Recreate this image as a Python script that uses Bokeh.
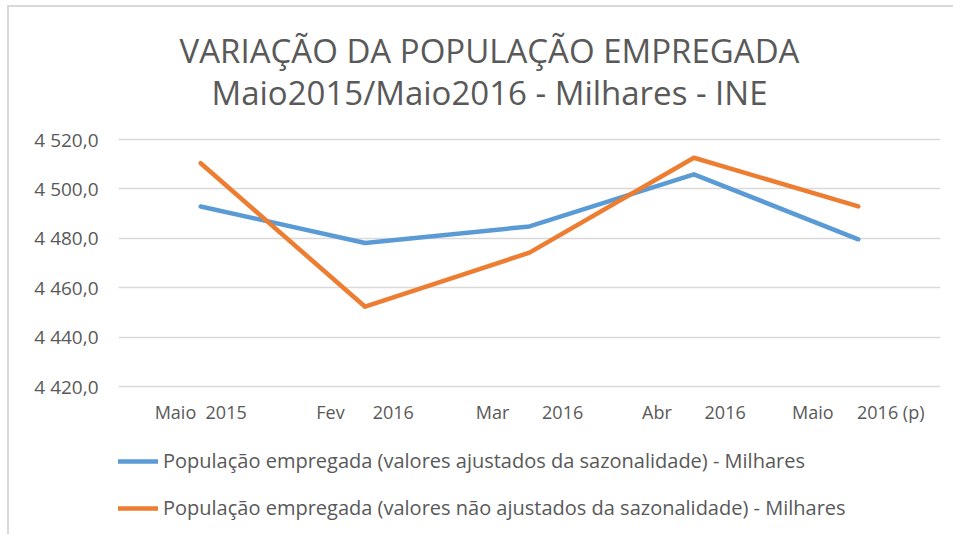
from bokeh.plotting import figure
from bokeh.models import FactorRange, Range1d, FixedTicker, Label, Legend, LegendItem
from bokeh.embed import file_html
from bokeh.resources import INLINE

NB = "\u00a0"
categories = ["Maio" + NB * 2 + "2015", "Fev" + NB * 6 + "2016", "Mar" + NB * 7 + "2016",
              "Abr" + NB * 7 + "2016", "Maio" + NB * 5 + "2016 (p)"]
ajustados = [4492.9, 4478.1, 4484.8, 4505.9, 4479.6]
nao_ajustados = [4510.4, 4452.3, 4474.2, 4512.6, 4492.9]
y_ticks = [4420, 4440, 4460, 4480, 4500, 4520]
y_tick_labels = ["4 420,0", "4 440,0", "4 460,0", "4 480,0", "4 500,0", "4 520,0"]
title_lines = ["VARIAÇÃO DA POPULAÇÃO EMPREGADA", "Maio2015/Maio2016 - Milhares - INE"]
series_names = ["População empregada (valores ajustados da sazonalidade) - Milhares",
                "População empregada (valores não ajustados da sazonalidade) - Milhares"]

FONT = "Open Sans"
GREY = "#595959"
BORDER = "#D9D9D9"

# frame spans the full canvas height; the value axis occupies 139..386 px
W, H = 953, 534
TOP_PX, BOT_PX = 139, 386
ppu = (BOT_PX - TOP_PX) / (y_ticks[-1] - y_ticks[0])
y_start = y_ticks[0] - (H - BOT_PX) / ppu
y_end = y_ticks[-1] + TOP_PX / ppu

p = figure(width=W, height=H, x_range=FactorRange(*categories), y_range=Range1d(y_start, y_end),
           output_backend="svg", toolbar_location=None,
           min_border_left=118, min_border_right=13, min_border_top=0, min_border_bottom=0)
p.x_range.range_padding = 0
p.outline_line_color = None
p.background_fill_alpha = 0
p.border_fill_alpha = 0
p.styles = {
    "background": (f"linear-gradient({BORDER},{BORDER}) 7px 5px / 2px 100% no-repeat, "
                   f"linear-gradient({BORDER},{BORDER}) 7px 5px / 100% 2px no-repeat, white"),
}

p.xgrid.grid_line_color = None
p.ygrid.ticker = FixedTicker(ticks=y_ticks)
p.ygrid.grid_line_color = BORDER
p.ygrid.grid_line_width = 1.5

p.yaxis.ticker = FixedTicker(ticks=y_ticks)
p.yaxis.major_label_overrides = {t: l for t, l in zip(y_ticks, y_tick_labels)}
p.xaxis.fixed_location = y_ticks[0]
for ax in (p.xaxis, p.yaxis):
    ax.axis_line_color = None
    ax.major_tick_line_color = None
    ax.minor_tick_line_color = None
    ax.major_tick_out = 0
    ax.major_tick_in = 0
    ax.major_label_text_font = FONT
    ax.major_label_text_color = GREY
    ax.major_label_text_font_size = "18px"
p.yaxis.major_label_text_font_size = "19px"
p.yaxis.major_label_standoff = 20
p.xaxis.major_label_standoff = 13

r1 = p.line(categories, ajustados, line_color="#5B9BD5", line_width=4.5, line_cap="round", line_join="round")
r2 = p.line(categories, nao_ajustados, line_color="#ED7D31", line_width=4.5, line_cap="round", line_join="round")

legend = Legend(items=[LegendItem(label=series_names[0], renderers=[r1]),
                       LegendItem(label=series_names[1], renderers=[r2])],
                location=(0, 13), orientation="vertical",
                glyph_width=40, glyph_height=20, label_height=20, spacing=20,
                label_standoff=5, padding=0, margin=0,
                border_line_color=None, background_fill_alpha=0,
                label_text_font=FONT, label_text_color=GREY, label_text_font_size="20px")
p.add_layout(legend, "center")

p.add_layout(Label(x=489 - 118, y=H - 50, x_units="screen", y_units="screen", text=title_lines[0],
                   text_align="center", text_baseline="middle", text_font=FONT,
                   text_font_size="33px", text_color=GREY))
p.add_layout(Label(x=489 - 118, y=H - 92, x_units="screen", y_units="screen", text=title_lines[1],
                   text_align="center", text_baseline="middle", text_font=FONT,
                   text_font_size="33px", text_color=GREY))

open("out.html", "w").write(file_html(p, INLINE))
